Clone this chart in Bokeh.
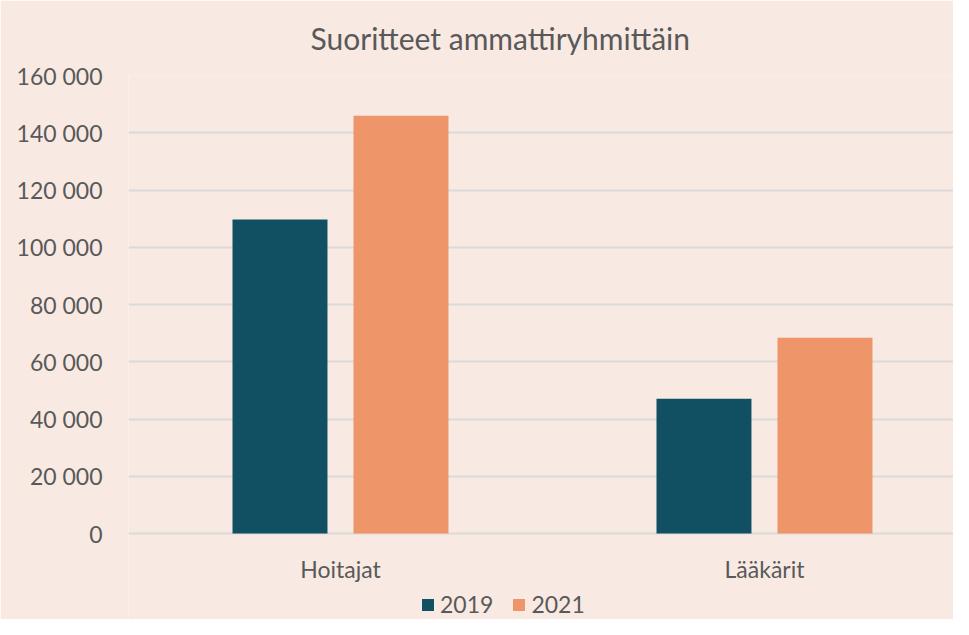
from bokeh.plotting import figure
from bokeh.models import ColumnDataSource, Range1d, FixedTicker, Legend, LegendItem
from bokeh.core.properties import value
from bokeh.embed import file_html
from bokeh.resources import INLINE

categories = ["Hoitajat", "Lääkärit"]
years = ["2019", "2021"]
values_2019 = [109700, 47100]
values_2021 = [145900, 68400]
y_ticks = [0, 20000, 40000, 60000, 80000, 100000, 120000, 140000, 160000]
y_tick_labels = ["0", "20 000", "40 000", "60 000", "80 000", "100 000", "120 000", "140 000", "160 000"]

colors = ["#114F63", "#EE956A"]
bg = "#F8EAE3"
txt = "#595959"
font = "Lato"

centers = [i + 0.5 for i in range(len(categories))]
offset = 0.1427
bw = 0.224

# frame spans to the bottom of the canvas; value axis 0 sits 86px above it
y_max = y_ticks[-1]
y_min = -y_max * 86 / 458

p = figure(width=953, height=619, output_backend="svg", toolbar_location=None,
           x_range=Range1d(0, 1.9458), y_range=Range1d(y_min, y_max),
           title="Suoritteet ammattiryhmittäin")
p.background_fill_color = bg
p.border_fill_color = bg
p.outline_line_color = None
p.min_border_left = 128
p.min_border_right = 0
p.min_border_top = 75
p.min_border_bottom = 0

p.title.align = "left"
p.title.vertical_align = "top"
p.title.text_font = font
p.title.text_font_size = "30px"
p.title.text_font_style = "normal"
p.title.text_color = txt
p.title.standoff = 36
p.title.offset = 182

src19 = ColumnDataSource(dict(x=[c - offset for c in centers], top=values_2019))
src21 = ColumnDataSource(dict(x=[c + offset for c in centers], top=values_2021))
r1 = p.vbar(x="x", top="top", width=bw, source=src19, fill_color=colors[0], line_color=None)
r2 = p.vbar(x="x", top="top", width=bw, source=src21, fill_color=colors[1], line_color=None)

# category labels under the zero line
lab = ColumnDataSource(dict(x=centers, y=[0] * len(categories), t=categories))
p.text(x="x", y="y", text="t", source=lab, text_align="center", text_baseline="middle",
       y_offset=35, text_font=value(font), text_font_size="23px", text_color=txt)

p.xaxis.visible = False

p.yaxis.ticker = FixedTicker(ticks=y_ticks)
p.yaxis.major_label_overrides = {t: l for t, l in zip(y_ticks, y_tick_labels)}
p.yaxis.axis_line_color = None
p.yaxis.major_tick_line_color = None
p.yaxis.minor_tick_line_color = None
p.yaxis.major_label_text_font = font
p.yaxis.major_label_text_font_size = "23px"
p.yaxis.major_label_text_color = txt
p.yaxis.major_label_standoff = 20

p.xgrid.grid_line_color = None
p.ygrid.grid_line_color = "#D9D9D9"
p.ygrid.grid_line_width = 2
p.ygrid.ticker = FixedTicker(ticks=y_ticks)

legend = Legend(items=[LegendItem(label=years[0], renderers=[r1]),
                       LegendItem(label=years[1], renderers=[r2])],
                orientation="horizontal", location=(292, 1))
legend.background_fill_alpha = 0
legend.border_line_color = None
legend.label_text_font = font
legend.label_text_font_size = "23px"
legend.label_text_color = txt
legend.glyph_width = 15
legend.glyph_height = 15
legend.label_standoff = 5
legend.spacing = 18
legend.padding = 0
legend.margin = 0
p.add_layout(legend, "center")

open("out.html", "w").write(file_html(p, INLINE))
